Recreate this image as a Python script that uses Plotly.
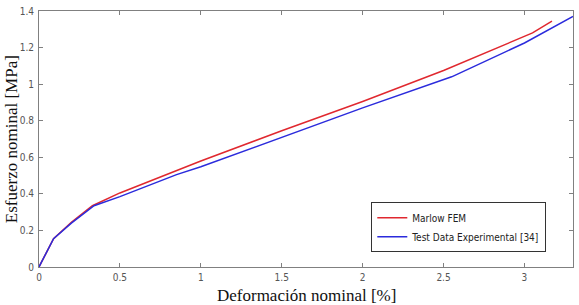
import plotly.graph_objects as go

# Marlow FEM
red_x = [0, 0.09, 0.2, 0.33, 0.5, 1.0, 1.5, 2.0, 2.5, 3.05, 3.17]
red_y = [0, 0.155, 0.245, 0.335, 0.405, 0.58, 0.745, 0.905, 1.075, 1.28, 1.345]

# Test Data Experimental [34]
blue_x = [0, 0.09, 0.2, 0.34, 0.5, 0.85, 1.0, 1.5, 2.0, 2.55, 3.0, 3.3]
blue_y = [0, 0.155, 0.24, 0.335, 0.385, 0.505, 0.548, 0.71, 0.87, 1.04, 1.225, 1.37]

x_ticks = [0, 0.5, 1, 1.5, 2, 2.5, 3]
y_ticks = [0, 0.2, 0.4, 0.6, 0.8, 1, 1.2, 1.4]

narrow = "Liberation Sans Narrow, Arial Narrow, DejaVu Sans Condensed, Liberation Sans, sans-serif"
tick_font = dict(family=narrow, size=10, color="#555555")
title_font = dict(family="Liberation Serif, Times New Roman, serif", size=17, color="#111111")

fig = go.Figure()
fig.add_trace(go.Scatter(x=red_x, y=red_y, mode="lines", name="Marlow FEM",
                         line=dict(color="#e0282f", width=1.5)))
fig.add_trace(go.Scatter(x=blue_x, y=blue_y, mode="lines", name="Test Data Experimental [34]",
                         line=dict(color="#2b2bdc", width=1.5)))

axis_common = dict(showline=True, linecolor="#808080", linewidth=1, mirror="ticks",
                   ticks="inside", ticklen=4, tickcolor="#808080", showgrid=False,
                   zeroline=False, tickfont=tick_font, automargin=False)

fig.update_layout(
    width=579, height=305,
    margin=dict(l=39, r=6, t=11, b=38),
    paper_bgcolor="white", plot_bgcolor="white",
    xaxis=dict(range=[0, 3.3], tickvals=x_ticks, ticktext=[str(v) for v in x_ticks],
               ticklabelstandoff=1, **axis_common),
    yaxis=dict(range=[0, 1.4], tickvals=y_ticks, ticktext=[("%g" % v) for v in y_ticks],
               ticklabelstandoff=2, **axis_common),
    legend=dict(x=0.950, y=0.253, xanchor="right", yanchor="top",
                bgcolor="white", bordercolor="#333333", borderwidth=1,
                font=dict(family=narrow, size=10, color="#222222"),
                tracegroupgap=0, itemwidth=30),
    showlegend=True,
    annotations=[
        dict(text="Deformación nominal [%]", xref="paper", yref="paper",
             x=0.5, y=-0.11, xanchor="center", yanchor="middle", showarrow=False,
             font=title_font),
        dict(text="Esfuerzo nominal [MPa]", xref="paper", yref="paper",
             x=-0.052, y=0.5, xanchor="center", yanchor="middle", showarrow=False,
             textangle=-90, font=title_font),
    ],
)

fig.write_html("out.html", config={"displayModeBar": False},
               post_script="document.body.style.margin='0';document.body.style.overflow='hidden';")
